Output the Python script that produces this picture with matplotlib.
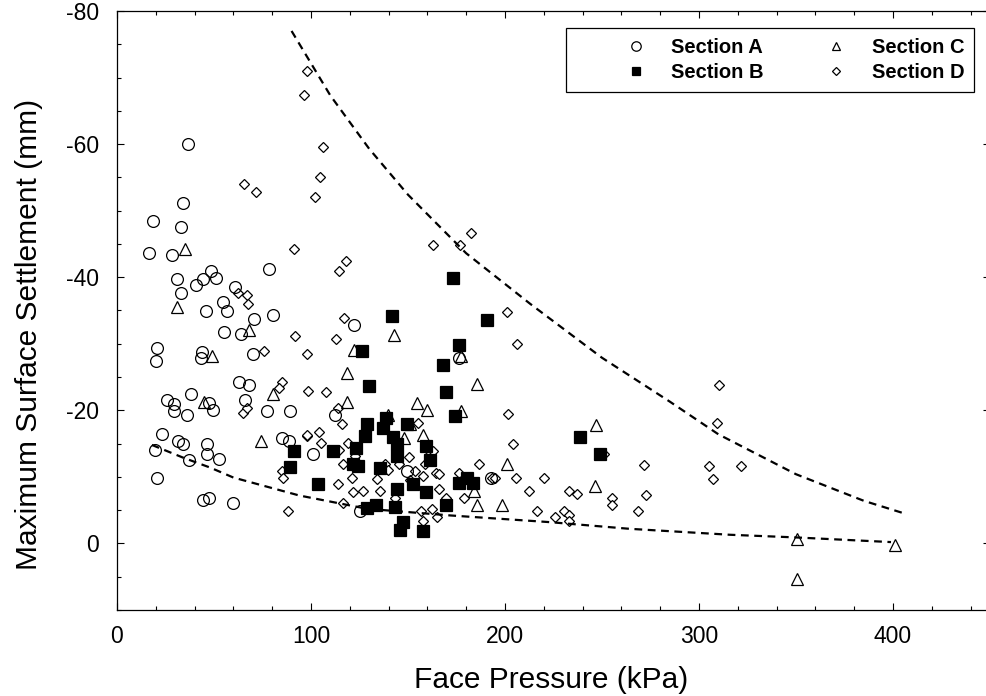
import matplotlib
matplotlib.use("Agg")
import matplotlib.pyplot as plt
from matplotlib.ticker import MultipleLocator

plt.rcParams["font.family"] = ["Liberation Sans", "DejaVu Sans"]
plt.rcParams["axes.unicode_minus"] = False

# ── data (face pressure kPa, settlement mm) ─────────────────────────────────
sec_a_x = [18.6, 16.5, 32.8, 28.4, 36.4, 34.2, 78.5, 30.8, 40.7, 44.5, 48.5, 51.0,
           33.0, 61.0, 54.5, 56.5, 45.9, 70.6, 80.3, 55.3, 63.9, 20.5, 19.9, 43.8,
           43.1, 70.0, 63.0, 67.9, 38.3, 25.9, 29.4, 29.4, 36.2, 47.6, 49.6, 66.1,
           77.5, 89.2, 23.0, 31.6, 34.2, 19.6, 46.5, 46.5, 52.7, 37.0, 20.8, 44.5,
           47.4, 59.9, 84.9, 88.8, 122.3, 112.4, 101.2, 125.3, 149.6, 192.6, 176.4]
sec_a_y = [-48.4, -43.6, -47.5, -43.3, -60.0, -51.1, -41.3, -39.7, -38.9, -39.7, -40.9, -39.9,
           -37.7, -38.5, -36.3, -34.9, -34.9, -33.7, -34.3, -31.7, -31.4, -29.4, -27.4, -28.8,
           -27.8, -28.4, -24.3, -23.8, -22.5, -21.5, -21.0, -19.9, -19.3, -21.1, -20.0, -21.5,
           -19.9, -19.9, -16.5, -15.4, -15.0, -14.0, -15.0, -13.5, -12.7, -12.5, -9.8, -6.5,
           -6.8, -6.1, -15.8, -15.4, -32.8, -19.3, -13.5, -4.9, -10.9, -9.8, -27.9]

sec_b_x = [173.0, 141.8, 190.9, 126.4, 176.4, 168.2, 130.1, 169.4, 174.2, 128.7, 137.0, 138.7,
           149.6, 127.8, 144.2, 159.3, 103.8, 111.5, 124.4, 135.6, 144.2, 144.2, 152.7, 159.3,
           169.6, 176.4, 183.7, 180.3, 143.3, 133.5, 147.6, 145.9, 157.6, 128.7, 121.8, 238.7,
           249.0, 91.4, 89.2, 123.2, 161.3, 142.4]
sec_b_y = [-39.9, -34.2, -33.6, -28.9, -29.8, -26.8, -23.6, -22.7, -19.1, -18.0, -17.3, -18.9,
           -17.9, -16.1, -15.0, -14.6, -9.0, -13.9, -11.6, -11.4, -13.1, -8.2, -8.9, -7.7,
           -5.8, -9.1, -9.1, -9.9, -5.4, -5.7, -3.2, -2.0, -1.9, -5.3, -11.9, -16.0,
           -13.4, -13.9, -11.5, -14.4, -12.5, -16.0]

sec_c_x = [34.9, 30.8, 68.2, 48.8, 44.8, 80.6, 74.1, 142.9, 122.2, 118.4, 185.4, 118.4,
           154.8, 159.6, 177.5, 139.7, 151.0, 157.6, 147.9, 201.2, 185.4, 198.3, 184.0, 246.8,
           246.4, 350.4, 401.0, 350.4, 177.3]
sec_c_y = [-44.2, -35.5, -32.0, -28.2, -21.2, -22.4, -15.4, -31.3, -29.0, -25.6, -24.0, -21.2,
           -21.1, -20.1, -19.9, -19.3, -18.0, -16.3, -15.9, -11.9, -5.8, -5.8, -7.9, -17.8,
           -8.7, -0.7, 0.3, 5.3, -28.2]

sec_d_x = [98.1, 96.4, 106.0, 104.6, 102.2, 65.6, 71.5, 91.2, 62.5, 66.9, 67.5, 91.9,
           75.8, 97.8, 84.9, 83.7, 98.6, 65.1, 66.9, 84.9, 85.7, 88.1, 97.8, 117.9,
           114.4, 116.9, 112.7, 201.2, 206.2, 107.6, 113.9, 116.0, 201.7, 204.3, 155.3, 104.3,
           105.0, 98.1, 119.2, 114.6, 116.3, 122.7, 114.1, 121.0, 121.8, 126.6, 134.2, 135.6,
           116.6, 138.1, 139.8, 145.5, 150.7, 153.6, 151.0, 157.9, 164.4, 166.1, 166.1, 158.8,
           159.3, 163.0, 143.3, 156.5, 162.2, 157.6, 164.8, 169.4, 179.0, 176.1, 186.4, 193.1,
           194.8, 205.7, 212.2, 216.6, 220.1, 309.1, 310.3, 251.0, 271.6, 305.3, 321.5, 307.4,
           233.2, 237.0, 255.0, 255.0, 272.7, 230.4, 225.8, 233.2, 233.2, 268.7, 162.9, 176.8,
           182.5]
sec_d_y = [-71.0, -67.4, -59.6, -55.1, -52.0, -54.0, -52.8, -44.2, -37.7, -37.4, -35.9, -31.1,
           -28.9, -28.5, -24.3, -23.4, -22.9, -19.6, -20.3, -10.9, -9.8, -4.9, -16.1, -42.5,
           -40.9, -33.8, -30.7, -34.8, -29.9, -22.7, -20.4, -17.9, -19.4, -15.0, -18.1, -16.8,
           -15.1, -16.3, -15.1, -14.1, -11.9, -13.1, -9.0, -9.9, -7.7, -7.9, -9.7, -7.9,
           -6.0, -11.9, -11.0, -11.9, -13.0, -10.9, -9.5, -10.1, -10.6, -10.4, -8.2, -11.9,
           -14.4, -13.9, -6.8, -4.9, -5.2, -3.4, -3.9, -6.8, -6.8, -10.6, -11.9, -9.9,
           -9.8, -9.8, -7.9, -4.8, -9.8, -18.1, -23.8, -13.4, -11.8, -11.7, -11.7, -9.7,
           -7.9, -7.5, -6.8, -5.8, -7.3, -4.8, -4.0, -4.2, -3.4, -4.8, -44.8, -44.8,
           -46.7]

# dashed envelope curves
upper_x = [90, 110, 130, 150, 180, 213, 250, 285, 310, 350, 385, 407]
upper_y = [-77.0, -67.3, -59.3, -52.4, -43.6, -36.0, -27.9, -21.3, -16.4, -10.4, -6.4, -4.4]
lower_x = [18, 34, 48, 60, 94, 129, 172, 223, 264, 316, 350, 399]
lower_y = [-14.8, -12.9, -11.4, -9.9, -7.2, -5.2, -4.2, -3.2, -2.2, -1.3, -0.9, -0.2]

fig = plt.figure(figsize=(9.87, 6.96), dpi=100)
ax = fig.add_axes([0.1185, 0.1236, 0.8845, 0.8606])

mk = dict(ls="none", mec="black", mew=0.9)
ax.plot(sec_d_x, sec_d_y, marker="D", ms=5.6, mfc="white", label="Section D", **mk)
ax.plot(sec_a_x, sec_a_y, marker="o", ms=8.5, mfc="none", label="Section A", **mk)
ax.plot(sec_c_x, sec_c_y, marker="^", ms=8, mfc="none", label="Section C", **mk)
ax.plot(sec_b_x, sec_b_y, marker="s", ms=8, mfc="black", label="Section B", **mk)

ax.plot(upper_x, upper_y, color="black", lw=1.6, dashes=(3.5, 2.5))
ax.plot(lower_x, lower_y, color="black", lw=1.6, dashes=(3.5, 2.5))

ax.set_xlim(0, 450)
ax.set_ylim(10, -80)
ax.xaxis.set_major_locator(MultipleLocator(100))
ax.xaxis.set_minor_locator(MultipleLocator(20))
ax.yaxis.set_major_locator(MultipleLocator(20))
ax.yaxis.set_minor_locator(MultipleLocator(5))
ax.tick_params(which="both", direction="in", top=True, right=True, width=0.8)
ax.tick_params(which="major", length=5)
ax.tick_params(which="minor", length=3)
ax.tick_params(axis="x", which="major", labelsize=16.5, pad=11)
ax.tick_params(axis="y", which="major", labelsize=16.5, pad=13)
for s in ax.spines.values():
    s.set_linewidth(0.9)

ax.set_xlabel("Face Pressure (kPa)", fontsize=21.5)
ax.set_ylabel("Maximum Surface Settlement (mm)", fontsize=21.5)
ax.xaxis.set_label_coords(0.497, -0.094)
ax.yaxis.set_label_coords(-0.085, 0.46)

h, l = ax.get_legend_handles_labels()
order = [l.index(n) for n in ["Section A", "Section B", "Section C", "Section D"]]
leg = ax.legend([h[i] for i in order], [l[i] for i in order], ncol=2,
                loc="upper right", bbox_to_anchor=(0.982, 0.972),
                prop={"weight": "bold", "size": 14.5}, numpoints=1,
                markerscale=0.8, handlelength=6.0, handletextpad=-1.25,
                columnspacing=0.6, borderpad=0.5, labelspacing=0.3,
                fancybox=False, framealpha=1, edgecolor="black", borderaxespad=0)
leg.get_frame().set_linewidth(0.9)

fig.savefig("out.png", dpi=100)
